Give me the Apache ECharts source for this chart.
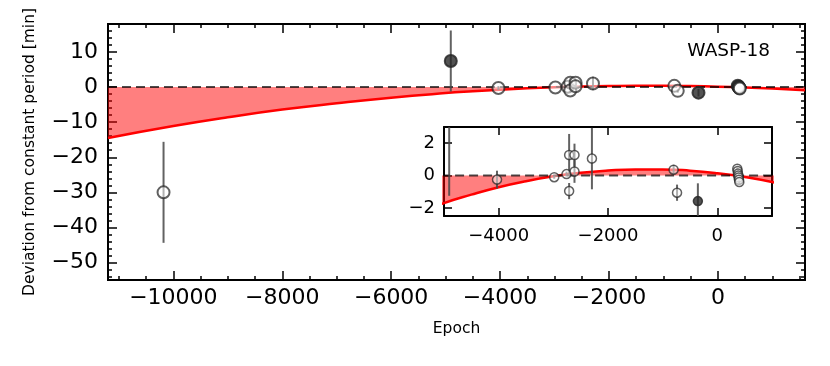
<!DOCTYPE html>
<html>
<head>
<meta charset="utf-8">
<script src="https://cdn.jsdelivr.net/npm/echarts@6/dist/echarts.min.js"></script>
<style>
  html, body { margin: 0; padding: 0; background: #fff; }
  #container { width: 830px; height: 366px; }
</style>
</head>
<body>
<div id="container"></div>
<script>
// model curve (deviation vs epoch)
const curveEpoch = [-11200, -10000, -9000, -8000, -7000, -6000, -5000, -4500, -4000, -3500, -3000, -2500, -2000, -1500, -1000, -500, 0, 500, 1000, 1600]
const curveDev = [-14.5, -11.1, -8.6, -6.4, -4.6, -3.0, -1.7, -1.18, -0.72, -0.35, -0.05, 0.17, 0.31, 0.38, 0.38, 0.3, 0.14, -0.09, -0.4, -0.87]

// open markers: epoch, deviation [min], error [min]
const openEpoch = [-10180, -4030, -2984, -2759, -2711, -2711, -2613, -2613, -2294, -800, -737, 365, 372, 378, 384, 390, 396, 402]
const openDev = [-30, -0.25, -0.1, 0.09, 1.27, -0.96, 1.27, 0.25, 1.05, 0.36, -1.06, 0.42, 0.28, 0.12, 0.0, -0.12, -0.26, -0.4]
const openErr = [14.4, 0.55, 0.1, 0.15, 1.3, 0.5, 0.7, 0.7, 1.9, 0.3, 0.5, 0.1, 0.1, 0.1, 0.1, 0.1, 0.1, 0.1]

// filled markers
const fillEpoch = [-4905, -356]
const fillDev = [7.45, -1.58]
const fillErr = [8.7, 1.1]

const zeroEpoch = [-11200, 1600]

const mainX = [-11200, 1600]
const mainY = [-55, 18]
const insetX = [-5000, 1000]
const insetY = [-2.5, 3]

const FONT = 'DejaVu Sans'

function minus(v) {
  return String(v).replace('-', '\u2212')
}

function zip(a, b, c) {
  return a.map((v, i) => c ? [v, b[i], c[i]] : [v, b[i]])
}

function axis(grid, pos, range, step, opts) {
  let a = {
    type: 'value',
    gridIndex: grid,
    position: pos,
    min: range[0],
    max: range[1],
    minInterval: step,
    maxInterval: step,
    splitNumber: Math.round((range[1] - range[0]) / step),
    splitLine: { show: false },
    axisLine: { show: true, onZero: false, lineStyle: { color: '#000', width: 2 } },
    axisTick: { show: true, inside: true, length: opts.tick, lineStyle: { color: '#000', width: 1.5 } },
    axisLabel: { show: false }
  }
  if (opts.label) {
    a.axisLabel = {
      show: true,
      fontFamily: FONT,
      fontSize: opts.label,
      color: '#000',
      margin: opts.margin,
      showMinLabel: false,
      showMaxLabel: false,
      formatter: minus
    }
  }
  if (opts.name) {
    a.name = opts.name
    a.nameLocation = 'middle'
    a.nameGap = opts.nameGap
    a.nameTextStyle = { fontFamily: FONT, fontSize: 15.5, color: '#000' }
  }
  return a
}

function errRender(params, api) {
  let x = api.value(0)
  let y = api.value(1)
  let e = api.value(2)
  let top = api.coord([x, y + e])
  let bot = api.coord([x, y - e])
  let cs = params.coordSys
  let y1 = Math.max(top[1], cs.y)
  let y2 = Math.min(bot[1], cs.y + cs.height)
  if (top[0] < cs.x || top[0] > cs.x + cs.width || y1 >= y2) return
  return {
    type: 'line',
    shape: { x1: top[0], y1: y1, x2: top[0], y2: y2 },
    style: { stroke: 'rgba(70,70,70,0.85)', lineWidth: 2 }
  }
}

function seriesFor(ax, size, border) {
  return [
    {
      type: 'line',
      xAxisIndex: ax.x,
      yAxisIndex: ax.y,
      data: zip(curveEpoch, curveDev),
      smooth: true,
      showSymbol: false,
      lineStyle: { color: '#ff0000', width: 2.5 },
      areaStyle: { color: 'rgba(255,0,0,0.5)', opacity: 1, origin: 0 },
      z: 2
    },
    {
      type: 'line',
      xAxisIndex: ax.x,
      yAxisIndex: ax.y,
      data: zip(zeroEpoch, [0, 0]),
      showSymbol: false,
      lineStyle: { color: 'rgba(0,0,0,0.7)', width: 2, type: [9, 5] },
      z: 3
    },
    {
      type: 'custom',
      xAxisIndex: ax.x,
      yAxisIndex: ax.y,
      renderItem: errRender,
      encode: { x: 0, y: 1 },
      data: zip(openEpoch, openDev, openErr).concat(zip(fillEpoch, fillDev, fillErr)),
      z: 4
    },
    {
      type: 'scatter',
      xAxisIndex: ax.x,
      yAxisIndex: ax.y,
      data: zip(openEpoch, openDev),
      symbol: 'circle',
      symbolSize: size,
      itemStyle: { color: 'rgba(255,255,255,0.5)', borderColor: 'rgba(35,35,35,0.72)', borderWidth: border, opacity: 1 },
      z: 5
    },
    {
      type: 'scatter',
      xAxisIndex: ax.x,
      yAxisIndex: ax.y,
      data: zip(fillEpoch, fillDev),
      symbol: 'circle',
      symbolSize: size,
      itemStyle: { color: 'rgba(40,40,40,0.8)', borderColor: 'rgba(40,40,40,0.85)', borderWidth: border, opacity: 1 },
      z: 5
    }
  ]
}

let chart = echarts.init(document.getElementById('container'), null, { renderer: 'canvas' })

let option = {
  animation: false,
  backgroundColor: '#fff',
  grid: [
    { left: 108, top: 24, width: 697, height: 256 },
    { left: 444, top: 127, width: 328, height: 89 }
  ],
  xAxis: [
    axis(0, 'bottom', mainX, 2000, { tick: 9, label: 22, margin: 7, name: 'Epoch', nameGap: 41 }),
    axis(0, 'bottom', mainX, 500, { tick: 4 }),
    axis(0, 'top', mainX, 2000, { tick: 9 }),
    axis(0, 'top', mainX, 500, { tick: 4 }),
    axis(1, 'bottom', insetX, 2000, { tick: 8, label: 18, margin: 11 }),
    axis(1, 'top', insetX, 2000, { tick: 8 })
  ],
  yAxis: [
    axis(0, 'left', mainY, 10, { tick: 9, label: 22, margin: 10, name: 'Deviation from constant period [min]', nameGap: 70 }),
    axis(0, 'left', mainY, 2, { tick: 4 }),
    axis(0, 'right', mainY, 10, { tick: 9 }),
    axis(0, 'right', mainY, 2, { tick: 4 }),
    axis(1, 'left', insetY, 2, { tick: 8, label: 18, margin: 9 }),
    axis(1, 'right', insetY, 2, { tick: 8 })
  ],
  graphic: [
    {
      type: 'text',
      right: 60,
      top: 42,
      style: { text: 'WASP-18', font: '18.5px "DejaVu Sans"', fill: '#000' }
    }
  ],
  series: seriesFor({ x: 0, y: 0 }, 12, 2).concat(seriesFor({ x: 4, y: 4 }, 9, 1.5))
}

option && chart.setOption(option)
</script>
</body>
</html>
